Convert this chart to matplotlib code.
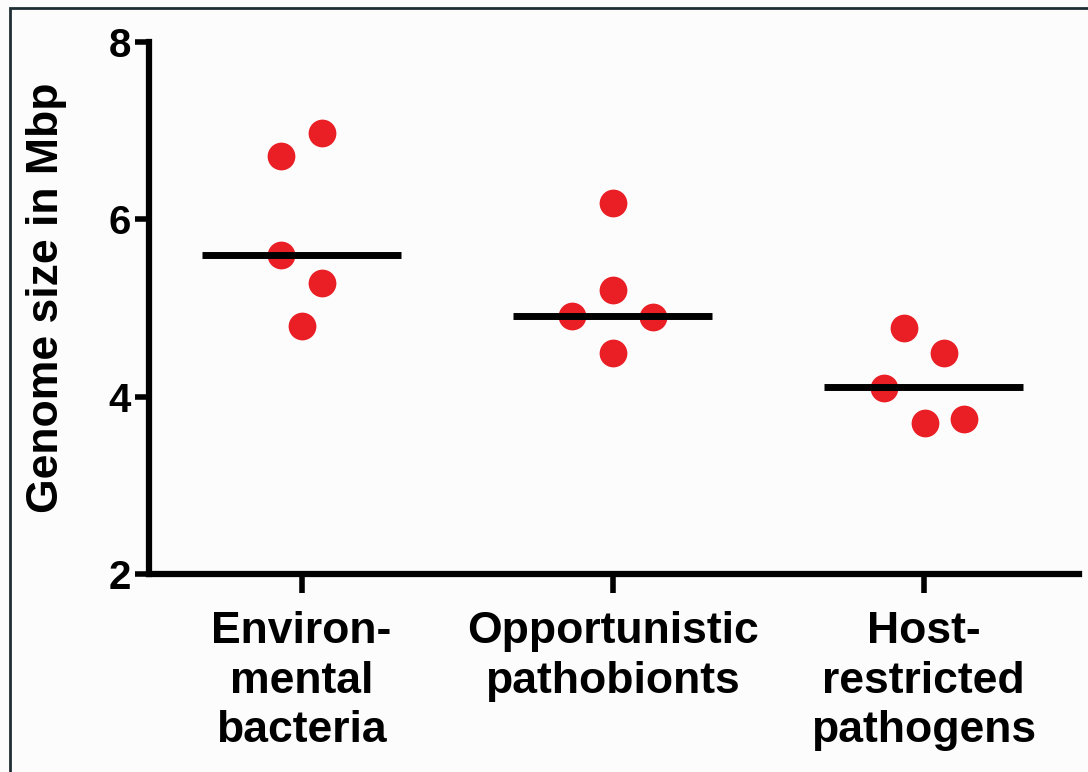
import matplotlib
matplotlib.use("Agg")
import matplotlib.pyplot as plt
from matplotlib.patches import Rectangle

plt.rcParams['font.family'] = ['Liberation Sans', 'DejaVu Sans']
plt.rcParams['font.weight'] = 'bold'

# data (genome size, Mbp)
categories = ['Environ-\nmental\nbacteria', 'Opportunistic\npathobionts', 'Host-\nrestricted\npathogens']
environmental = [6.71, 6.97, 5.60, 5.28, 4.80]
opportunistic = [6.18, 5.20, 4.91, 4.90, 4.49]
host_restricted = [4.78, 4.49, 4.10, 3.70, 3.75]
medians = [5.60, 4.91, 4.11]

# horizontal spread of the dots around each category (scatter layout)
offsets = [
    [-0.065, 0.065, -0.065, 0.065, 0.0],
    [0.0, 0.0, -0.13, 0.13, 0.0],
    [-0.063, 0.065, -0.127, 0.003, 0.13],
]
groups = [environmental, opportunistic, host_restricted]

fig = plt.figure(figsize=(10.88, 7.72), dpi=100, facecolor='#fcfcfd')
ax = fig.add_axes([0.137, 0.2565, 0.855, 0.689])
ax.set_facecolor('#fcfcfd')

for i, vals in enumerate(groups):
    xs = [i + o for o in offsets[i]]
    ax.plot(xs, vals, 'o', ms=20, color='#ea1f25', mec='none', zorder=3)
    ax.plot([i - 0.32, i + 0.32], [medians[i], medians[i]], color='black',
            lw=5, solid_capstyle='butt', zorder=4)

ax.set_xlim(-0.49, 2.5)
ax.set_ylim(2, 8)
ax.set_yticks([2, 4, 6, 8])
ax.set_xticks(range(len(categories)))
ax.set_xticklabels(categories, fontsize=32, fontweight='bold', linespacing=1.26)
ax.tick_params(axis='y', labelsize=29, width=4, length=10, pad=3)
ax.tick_params(axis='x', width=4, length=14, pad=13)
for lbl in ax.get_yticklabels():
    lbl.set_fontweight('bold')

for s in ['top', 'right']:
    ax.spines[s].set_visible(False)
for s in ['left', 'bottom']:
    ax.spines[s].set_linewidth(4.5)
    ax.spines[s].set_capstyle('projecting')

ax.set_ylabel('Genome size in Mbp', fontsize=32, fontweight='bold')
ax.yaxis.set_label_coords(-0.088, 0.52)

# thin frame around the figure (top and left visible)
fig.patches.append(Rectangle((10 / 1088, -0.1), 1.2, 1.1 - 8 / 772,
                             transform=fig.transFigure, fill=False,
                             edgecolor='#1f2e34', lw=2))

fig.savefig('out.png', dpi=100, facecolor=fig.get_facecolor())
